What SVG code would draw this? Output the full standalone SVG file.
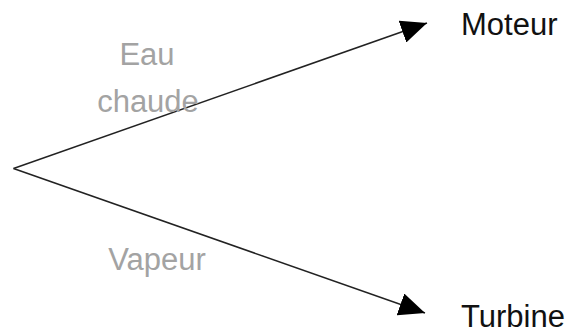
<svg xmlns="http://www.w3.org/2000/svg" width="573" height="332" viewBox="0 0 573 332">
  <style>
    .node { font-family: "Liberation Sans", Arial, sans-serif; font-size: 31px; fill: #111; }
    .label { font-family: "Liberation Sans", Arial, sans-serif; font-size: 31px; fill: #a3a3a3; text-anchor: middle; }
    .edge { stroke: #222; stroke-width: 1.5; fill: none; marker-end: url(#arrow); }
  </style>
  <defs>
    <marker id="arrow" viewBox="0 0 26 23" refX="26" refY="11.5" markerWidth="26" markerHeight="23" markerUnits="userSpaceOnUse" orient="auto">
      <path d="M0,0 L26,11.5 L0,23 z" fill="#000"/>
    </marker>
  </defs>

  <!-- connectors -->
  <g id="connectors">
    <line class="edge" x1="13.5" y1="168.5" x2="427" y2="23"/>
    <line class="edge" x1="13.5" y1="168.5" x2="425" y2="313"/>
    <text class="label" x="147" y="65">Eau</text>
    <text class="label" x="148" y="111.5">chaude</text>
    <text class="label" x="157" y="270">Vapeur</text>
  </g>

  <g id="moteur">
    <text class="node" x="461" y="35">Moteur</text>
  </g>
  <g id="turbine">
    <text class="node" x="461" y="326.5">Turbine</text>
  </g>
</svg>
